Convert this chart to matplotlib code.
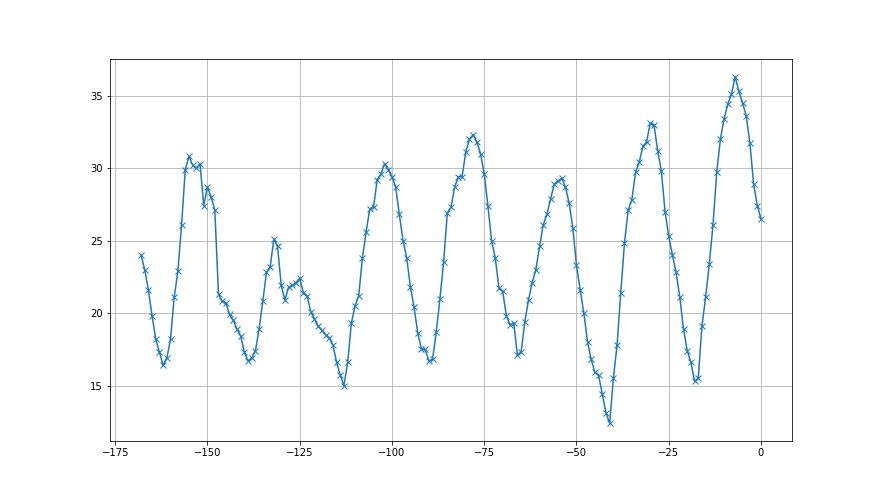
import numpy as np
import matplotlib
matplotlib.use("Agg")
from matplotlib import pyplot as plt

# one reading per step, x runs from -168 to 0
days = np.arange(-168, 1)
temps = [
    24.0, 23.0, 21.6, 19.8, 18.2, 17.3, 16.4, 16.9, 18.2, 21.1,
    22.9, 26.1, 29.9, 30.8, 30.2, 30.0, 30.3, 27.4, 28.7, 28.0,
    27.1, 21.3, 20.8, 20.7, 19.9, 19.5, 18.9, 18.4, 17.3, 16.7,
    16.9, 17.4, 18.9, 20.8, 22.8, 23.2, 25.1, 24.6, 21.9, 20.9,
    21.8, 21.9, 22.1, 22.4, 21.4, 21.2, 20.1, 19.6, 19.1, 18.8,
    18.5, 18.3, 17.8, 16.6, 15.7, 15.0, 16.6, 19.3, 20.5, 21.2,
    23.8, 25.6, 27.2, 27.3, 29.2, 29.6, 30.3, 29.9, 29.4, 28.7,
    26.8, 25.0, 23.8, 21.8, 20.4, 18.6, 17.5, 17.5, 16.7, 16.8,
    18.7, 21.0, 23.5, 26.9, 27.3, 28.7, 29.4, 29.4, 31.1, 32.0,
    32.3, 31.8, 31.0, 29.6, 27.4, 25.0, 23.8, 21.7, 21.5, 19.8,
    19.2, 19.3, 17.1, 17.3, 19.4, 20.9, 22.1, 23.0, 24.6, 26.1,
    26.8, 27.9, 28.9, 29.1, 29.3, 28.7, 27.6, 25.9, 23.3, 21.6,
    20.0, 18.0, 16.8, 15.9, 15.7, 14.4, 13.1, 12.4, 15.5, 17.8,
    21.4, 24.8, 27.1, 27.8, 29.7, 30.4, 31.5, 31.8, 33.1, 33.0,
    31.2, 29.8, 27.0, 25.3, 24.0, 22.8, 21.1, 18.9, 17.4, 16.6,
    15.3, 15.5, 19.1, 21.1, 23.4, 26.1, 29.7, 32.0, 33.4, 34.4,
    35.1, 36.3, 35.3, 34.5, 33.6, 31.7, 28.9, 27.4, 26.5,
]

fig, ax = plt.subplots(figsize=(880 / 72, 495 / 72), dpi=72)
ax.plot(days, temps, marker="x")
ax.grid(True)

fig.savefig("out.png", dpi=72)
